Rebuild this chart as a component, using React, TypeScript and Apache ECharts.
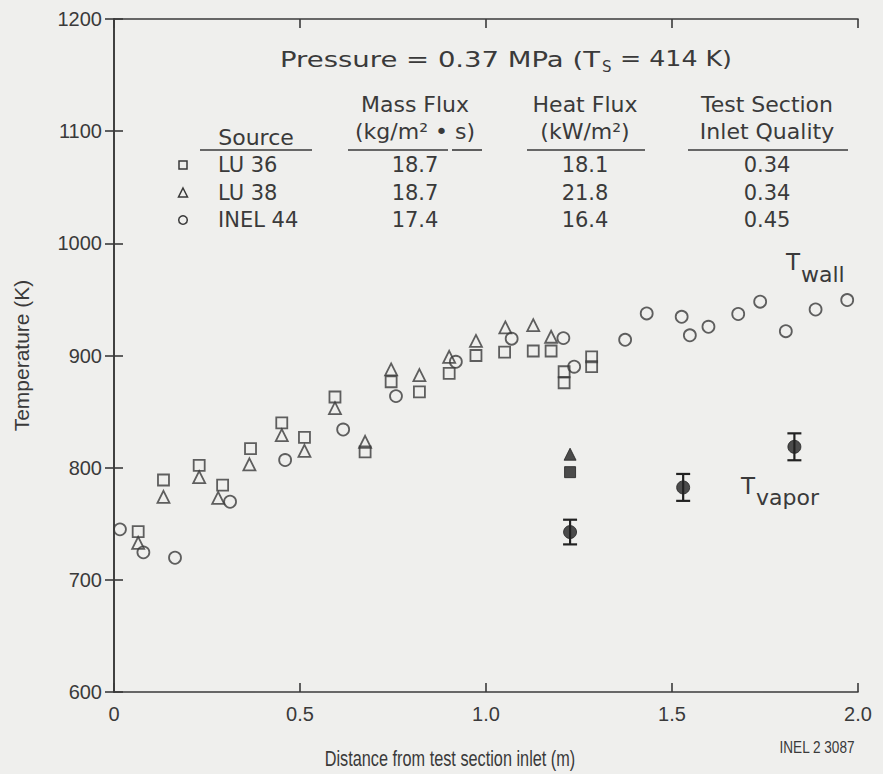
import React, { useEffect, useRef } from 'react';
import * as echarts from 'echarts';

// ---- Data ----
const lu36Wall: number[][] = [
  [0.065, 743], [0.133, 789], [0.229, 802], [0.292, 784.5], [0.367, 817],
  [0.451, 840], [0.512, 827], [0.594, 863], [0.675, 814], [0.745, 876.6],
  [0.821, 867.6], [0.901, 884], [0.973, 900], [1.05, 903], [1.127, 904],
  [1.175, 904], [1.21, 885.5], [1.21, 875.7], [1.284, 898.8], [1.284, 890],
];
const lu38Wall: number[][] = [
  [0.065, 733], [0.133, 774], [0.229, 791.6], [0.28, 773], [0.364, 803],
  [0.451, 829], [0.512, 815], [0.594, 853], [0.675, 823], [0.745, 887.6],
  [0.821, 882.5], [0.901, 898.8], [0.973, 913], [1.052, 925], [1.127, 927],
  [1.175, 916.7],
];
const inel44Wall: number[][] = [
  [0.016, 745], [0.079, 724.5], [0.164, 719.7], [0.312, 769.6], [0.46, 806.8],
  [0.616, 834], [0.758, 863.8], [0.919, 894.4], [1.069, 915], [1.208, 915.5],
  [1.237, 890], [1.374, 914], [1.432, 937.5], [1.526, 934.5], [1.548, 918],
  [1.598, 925.6], [1.678, 937], [1.737, 948], [1.806, 921.7], [1.886, 941],
  [1.971, 949.4],
];
const lu36Vapor: number[][] = [[1.226, 796]];
const lu38Vapor: number[][] = [[1.226, 812]];
// [x, T, error half-width]
const inel44Vapor: number[][] = [[1.226, 742.6, 11], [1.53, 782.4, 12], [1.829, 818.6, 12]];

const xTickLabels = ['0', '0.5', '1.0', '1.5', '2.0'];
const yTickLabels = ['600', '700', '800', '900', '1000', '1100', '1200'];

const sources = ['LU 36', 'LU 38', 'INEL 44'];
const massFlux = ['18.7', '18.7', '17.4'];
const heatFlux = ['18.1', '21.8', '16.4'];
const inletQuality = ['0.34', '0.34', '0.45'];

const INK = '#3a3a3a';
const WIDE = "'DejaVu Sans', 'Liberation Sans', Arial, sans-serif";
const SANS = "'Liberation Sans', Arial, sans-serif";

function txt(text: string, x: number, y: number, size: number, align = 'left', family = WIDE, scaleX = 1) {
  return {
    type: 'text',
    x,
    y,
    scaleX,
    silent: true,
    style: {
      text,
      fill: INK,
      fontSize: size,
      fontFamily: family,
      align,
      verticalAlign: 'middle',
      textAlign: align,
      textVerticalAlign: 'middle',
    },
  };
}

function uline(x1: number, x2: number, y: number) {
  return {
    type: 'line',
    silent: true,
    shape: { x1, y1: y, x2, y2: y },
    style: { stroke: INK, lineWidth: 1.6 },
  };
}

export default function App() {
  const ref = useRef<HTMLDivElement>(null);

  useEffect(() => {
    document.body.style.margin = '0';
    if (!ref.current) return;
    const chart = echarts.init(ref.current, undefined, { renderer: 'svg' });

    const openStyle = { color: 'rgba(0,0,0,0)', borderColor: INK, borderWidth: 1.8 };
    const filledStyle = { color: '#222', borderColor: '#222', borderWidth: 1 };

    const axisLine = { show: true, lineStyle: { color: INK, width: 1.6 } };
    const axisTick = { show: true, inside: true, length: 9, lineStyle: { color: INK, width: 1.6 } };

    const colX = [415, 585, 767];
    const rowY = [165, 193, 220];
    const legendGraphics: any[] = [];
    rowY.forEach((y, i) => {
      if (i === 0) {
        legendGraphics.push({
          type: 'rect', silent: true,
          shape: { x: 179, y: y - 4, width: 8, height: 8 },
          style: { fill: 'none', stroke: INK, lineWidth: 1.5 },
        });
      } else if (i === 1) {
        legendGraphics.push({
          type: 'polygon', silent: true,
          shape: { points: [[183, y - 5], [187.5, y + 4], [178.5, y + 4]] },
          style: { fill: 'none', stroke: INK, lineWidth: 1.5 },
        });
      } else {
        legendGraphics.push({
          type: 'circle', silent: true,
          shape: { cx: 183, cy: y, r: 4.3 },
          style: { fill: 'none', stroke: INK, lineWidth: 1.5 },
        });
      }
      legendGraphics.push(txt(sources[i], 218, y, 21));
      legendGraphics.push(txt(massFlux[i], colX[0], y, 21, 'center'));
      legendGraphics.push(txt(heatFlux[i], colX[1], y, 21, 'center'));
      legendGraphics.push(txt(inletQuality[i], colX[2], y, 21, 'center'));
    });

    const option: any = {
      animation: false,
      backgroundColor: '#efefed',
      grid: { left: 114, right: 25, top: 19, bottom: 82, containLabel: false },
      xAxis: [
        {
          type: 'value', min: 0, max: 2, interval: 0.5, position: 'bottom',
          axisLine, axisTick, splitLine: { show: false },
          axisLabel: {
            margin: 12, fontSize: 20, color: INK, fontFamily: SANS,
            formatter: (v: number) => xTickLabels[Math.round(v / 0.5)] ?? '',
          },
        },
        {
          type: 'value', min: 0, max: 2, interval: 0.5, position: 'top',
          axisLine, axisTick, splitLine: { show: false }, axisLabel: { show: false },
        },
      ],
      yAxis: [
        {
          type: 'value', min: 600, max: 1200, interval: 100, position: 'left',
          axisLine, axisTick, splitLine: { show: false },
          axisLabel: {
            margin: 12, fontSize: 20, color: INK, fontFamily: SANS,
            formatter: (v: number) => yTickLabels[Math.round((v - 600) / 100)] ?? '',
          },
          name: 'Temperature (K)',
          nameLocation: 'middle',
          nameRotate: 90,
          nameGap: 82,
          nameTextStyle: { fontSize: 21, color: INK, fontFamily: SANS },
        },
        {
          type: 'value', min: 600, max: 1200, interval: 100, position: 'right',
          axisLine, axisTick, splitLine: { show: false }, axisLabel: { show: false },
        },
      ],
      series: [
        {
          name: 'LU 36', type: 'scatter', symbol: 'rect', symbolSize: 11,
          data: lu36Wall, itemStyle: openStyle, z: 3,
        },
        {
          name: 'LU 38', type: 'scatter', symbol: 'triangle', symbolSize: 12,
          data: lu38Wall, itemStyle: openStyle, z: 3,
        },
        {
          name: 'INEL 44', type: 'scatter', symbol: 'circle', symbolSize: 12,
          data: inel44Wall, itemStyle: openStyle, z: 3,
        },
        {
          name: 'LU 36 vapor', type: 'scatter', symbol: 'rect', symbolSize: 11,
          data: lu36Vapor, itemStyle: filledStyle, z: 4,
        },
        {
          name: 'LU 38 vapor', type: 'scatter', symbol: 'triangle', symbolSize: 12,
          data: lu38Vapor, itemStyle: filledStyle, z: 4,
        },
        {
          name: 'INEL 44 vapor error',
          type: 'custom',
          data: inel44Vapor,
          z: 4,
          renderItem: (_params: any, api: any) => {
            const x = api.value(0);
            const y = api.value(1);
            const e = api.value(2);
            const top = api.coord([x, y + e]);
            const bot = api.coord([x, y - e]);
            const hw = 7;
            const st = { stroke: '#222', lineWidth: 2.2 };
            return {
              type: 'group',
              children: [
                { type: 'line', shape: { x1: top[0], y1: top[1], x2: bot[0], y2: bot[1] }, style: st },
                { type: 'line', shape: { x1: top[0] - hw, y1: top[1], x2: top[0] + hw, y2: top[1] }, style: st },
                { type: 'line', shape: { x1: bot[0] - hw, y1: bot[1], x2: bot[0] + hw, y2: bot[1] }, style: st },
              ],
            };
          },
        },
        {
          name: 'INEL 44 vapor', type: 'scatter', symbol: 'circle', symbolSize: 13,
          data: inel44Vapor.map((d) => [d[0], d[1]]), itemStyle: filledStyle, z: 5,
        },
      ],
      graphic: [
        txt('Pressure = 0.37 MPa (T', 280, 59, 22, 'left', WIDE, 1.25),
        txt('S', 602, 67, 15),
        txt('= 414 K)', 620, 59, 22, 'left', WIDE, 1.15),
        txt('Mass Flux', colX[0], 104, 22, 'center'),
        txt('(kg/m² • s)', colX[0], 131, 22, 'center'),
        txt('Heat Flux', colX[1], 104, 22, 'center'),
        txt('(kW/m²)', colX[1], 131, 22, 'center'),
        txt('Test Section', colX[2], 104, 22, 'center'),
        txt('Inlet Quality', colX[2], 131, 22, 'center'),
        txt('Source', 256, 137, 22, 'center'),
        uline(200, 312, 150),
        uline(348, 448, 150),
        uline(452, 482, 150),
        uline(527, 645, 150),
        uline(688, 848, 150),
        ...legendGraphics,
        txt('T', 786, 262, 23),
        txt('wall', 801, 274, 22),
        txt('T', 741, 486, 23),
        txt('vapor', 756, 497, 22),
        txt('Distance from test section inlet (m)', 450, 758, 22, 'center', SANS, 0.74),
        txt('INEL 2 3087', 817, 748, 16, 'center', SANS, 0.85),
      ],
    };

    chart.setOption(option);
    return () => chart.dispose();
  }, []);

  return <div ref={ref} style={{ width: 883, height: 774 }} />;
}
